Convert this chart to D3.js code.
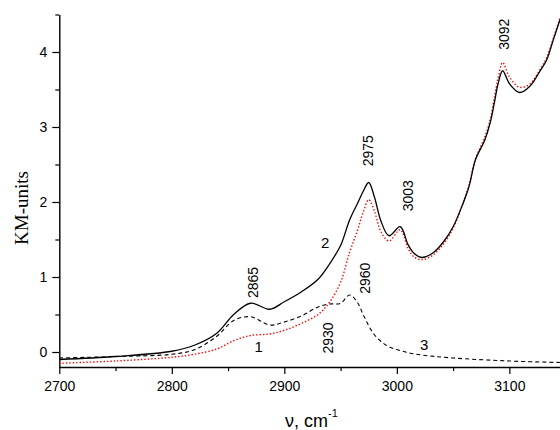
<!DOCTYPE html>
<html>
<head>
<meta charset="utf-8">
<script src="https://cdn.jsdelivr.net/npm/d3@7"></script>
<style>
  html, body { margin: 0; padding: 0; background: #fff; }
  svg { display: block; }
</style>
</head>
<body>
<svg id="chart" width="560" height="430"></svg>
<script>
// ---- data ----
const wavenumber = [2700, 2750, 2800, 2820, 2840, 2855, 2870, 2887, 2900, 2915, 2930, 2940, 2950, 2958, 2965, 2970, 2975, 2980, 2986, 2993, 3003, 3010, 3015, 3022, 3032, 3042, 3050, 3058, 3064, 3070, 3078, 3083, 3087, 3090, 3094, 3100, 3109, 3118, 3127, 3133, 3139, 3145];
// curve 1 (red dotted)
const curve1 = [-0.15, -0.12, -0.07, -0.03, 0.04, 0.15, 0.22, 0.24, 0.29, 0.38, 0.50, 0.66, 0.93, 1.33, 1.62, 1.86, 2.03, 1.88, 1.60, 1.48, 1.63, 1.38, 1.27, 1.23, 1.29, 1.45, 1.65, 1.95, 2.22, 2.58, 2.86, 3.10, 3.42, 3.65, 3.86, 3.67, 3.53, 3.57, 3.76, 3.92, 4.18, 4.45];
// curve 2 (black solid)
const curve2 = [-0.10, -0.06, 0.01, 0.09, 0.25, 0.50, 0.65, 0.57, 0.67, 0.80, 0.97, 1.17, 1.42, 1.76, 1.98, 2.14, 2.26, 2.07, 1.74, 1.55, 1.67, 1.43, 1.32, 1.26, 1.32, 1.48, 1.67, 1.95, 2.20, 2.57, 2.82, 3.06, 3.35, 3.58, 3.75, 3.58, 3.46, 3.54, 3.74, 3.89, 4.16, 4.43];
// curve 3 (black dashed)
const wavenumber3 = [2700, 2750, 2800, 2820, 2840, 2855, 2870, 2887, 2900, 2915, 2930, 2940, 2950, 2958, 2965, 2970, 2975, 2980, 2986, 2993, 3003, 3010, 3022, 3050, 3100, 3145];
const curve3 = [-0.08, -0.06, -0.03, 0.03, 0.21, 0.42, 0.47, 0.36, 0.40, 0.48, 0.60, 0.64, 0.65, 0.76, 0.66, 0.50, 0.35, 0.23, 0.14, 0.07, 0.02, -0.01, -0.04, -0.08, -0.12, -0.14];

const xTicks = [2700, 2800, 2900, 3000, 3100];
const xMinorTicks = [2750, 2850, 2950, 3050];
const yTicks = [0, 1, 2, 3, 4];
const yMinorTicks = [0.5, 1.5, 2.5, 3.5, 4.5];

// peak annotations (data coordinates)
const peakText = ["2865", "2975", "3003", "3092", "2960", "2930"];
const peakX = [2871.9, 2974.1, 3010.2, 3095.3, 2971.7, 2938.6];
const peakY = [0.927, 2.683, 2.083, 4.237, 0.983, 0.187];
// curve number labels (data coordinates)
const curveNames = ["1", "2", "3"];
const curveNameX = [2877.3, 2936.2, 3024.3];
const curveNameY = [0.004, 1.383, 0.027];

// ---- drawing ----
(function () {
const svg = d3.select("#chart");
const mLeft = 59.3, mRight = 560, mTop = 14.5, mBottom = 367;

const x = d3.scaleLinear().domain([2700, 3145]).range([mLeft, mRight]);
const y = d3.scaleLinear().domain([-0.2, 4.5]).range([mBottom, mTop]);

svg.append("defs").append("clipPath").attr("id", "clip")
  .append("rect").attr("x", mLeft).attr("y", 0).attr("width", mRight - mLeft).attr("height", mBottom);

const fontSans = "'Liberation Sans', Arial, sans-serif";

// axes
const xAxis = svg.append("g").attr("transform", `translate(0,${mBottom})`)
  .call(d3.axisBottom(x).tickValues(xTicks).tickFormat(d3.format("d")).tickSize(7).tickPadding(7).tickSizeOuter(0));
const xMinor = svg.append("g").attr("transform", `translate(0,${mBottom})`)
  .call(d3.axisBottom(x).tickValues(xMinorTicks).tickFormat("").tickSize(4).tickSizeOuter(0));
const yAxis = svg.append("g").attr("transform", `translate(${mLeft},0)`)
  .call(d3.axisLeft(y).tickValues(yTicks).tickFormat(d3.format("d")).tickSize(7).tickPadding(5).tickSizeOuter(0));
const yMinor = svg.append("g").attr("transform", `translate(${mLeft},0)`)
  .call(d3.axisLeft(y).tickValues(yMinorTicks).tickFormat("").tickSize(4).tickSizeOuter(0));

[xAxis, xMinor, yAxis, yMinor].forEach(g => {
  g.selectAll("path").attr("stroke", "#000").attr("stroke-width", 1.4);
  g.selectAll("line").attr("stroke", "#000").attr("stroke-width", 1.2);
  g.selectAll("text").attr("font-family", fontSans).attr("font-size", 14).attr("fill", "#000");
});
xMinor.select("path").remove();
yMinor.select("path").remove();

// curves
const line = d3.line().curve(d3.curveCatmullRom.alpha(0.5));
const plot = svg.append("g").attr("clip-path", "url(#clip)");

plot.append("path")
  .attr("d", line(wavenumber3.map((w, i) => [x(w), y(curve3[i])])))
  .attr("fill", "none").attr("stroke", "#000").attr("stroke-width", 1.1)
  .attr("stroke-dasharray", "4,3");

plot.append("path")
  .attr("d", line(wavenumber.map((w, i) => [x(w), y(curve1[i])])))
  .attr("fill", "none").attr("stroke", "#ff0000").attr("stroke-width", 1.4)
  .attr("stroke-dasharray", "1.4,2");

plot.append("path")
  .attr("d", line(wavenumber.map((w, i) => [x(w), y(curve2[i])])))
  .attr("fill", "none").attr("stroke", "#000").attr("stroke-width", 1.3);

// peak labels (rotated)
peakText.forEach((t, i) => {
  svg.append("text")
    .attr("transform", `translate(${x(peakX[i])},${y(peakY[i])}) rotate(-90)`)
    .attr("text-anchor", "middle").attr("dy", "0.35em")
    .attr("font-family", fontSans).attr("font-size", 14).attr("fill", "#000")
    .text(t);
});

// curve numbers
curveNames.forEach((t, i) => {
  svg.append("text")
    .attr("x", x(curveNameX[i])).attr("y", y(curveNameY[i]))
    .attr("text-anchor", "middle")
    .attr("font-family", fontSans).attr("font-size", 15).attr("fill", "#000")
    .text(t);
});

// axis titles
svg.append("text")
  .attr("transform", `translate(28,208) rotate(-90)`)
  .attr("text-anchor", "middle")
  .attr("font-family", "'Liberation Serif', 'Times New Roman', serif")
  .attr("font-size", 19).attr("fill", "#000")
  .text("KM-units");

const xt = svg.append("text")
  .attr("x", 285).attr("y", 426.5)
  .attr("font-family", fontSans).attr("font-size", 18).attr("fill", "#000");
xt.append("tspan").text("ν, cm");
xt.append("tspan").attr("font-size", 11).attr("dy", -9.5).text("-1");
})();
</script>
</body>
</html>
